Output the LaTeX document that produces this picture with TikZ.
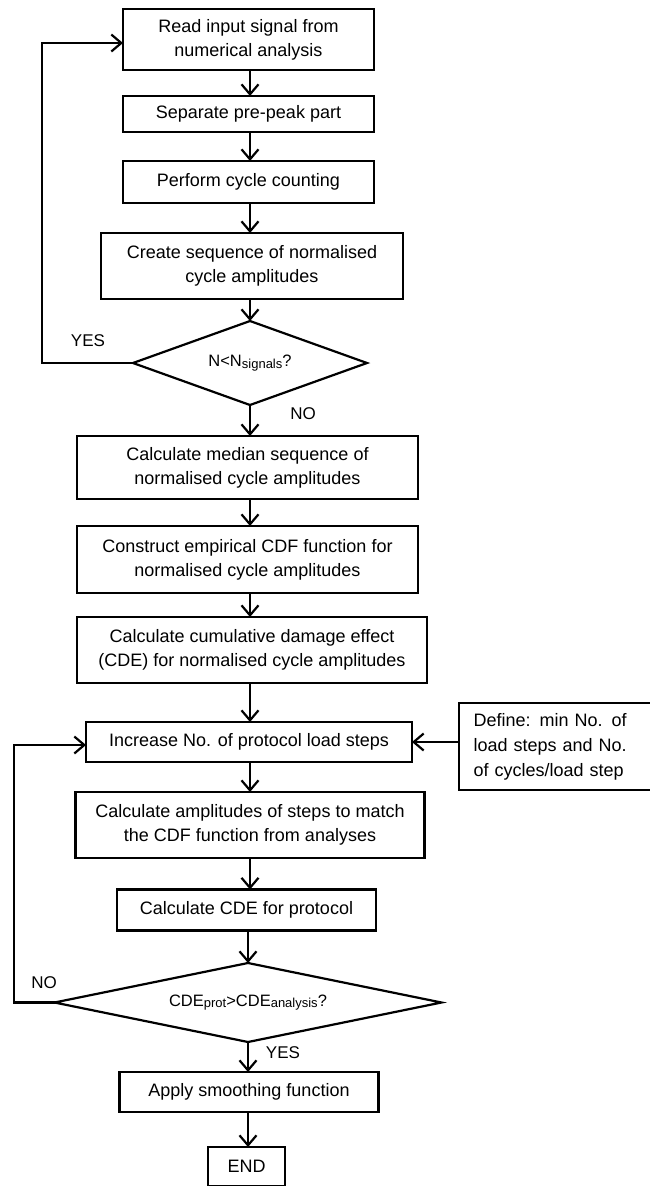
\documentclass[tikz,border=0pt]{standalone}
\usepackage{fontspec}
\setmainfont{Liberation Sans}
\usetikzlibrary{arrows.meta,shapes.geometric}
\newcommand{\sbs}[1]{\raisebox{-1.5pt}{\fontsize{13}{13}\selectfont #1}}
\begin{document}
\begin{tikzpicture}[x=1pt,y=-1pt,
  box/.style={draw, line width=2.2pt, fill=white, align=center, inner sep=0pt, outer sep=0pt, font=\fontsize{18}{24}\selectfont},
  dia/.style={draw, diamond, line width=2.2pt, fill=white, inner sep=0pt, outer sep=0pt, font=\fontsize{16.5}{20}\selectfont},
  arr/.style={line width=2.2pt, -{Straight Barb[length=10pt,width=17pt]}},
  lbl/.style={font=\fontsize{17}{20}\selectfont, inner sep=0pt}]
\useasboundingbox (0,0) rectangle (650,1186);
\fill[white] (0,0) rectangle (650,1186);
\coordinate (c) at (250,0);
% main column
\node[box, minimum width=251pt, minimum height=61pt] (b1) at (248.5,39.5) {Read input signal from\\numerical analysis};
\node[box, minimum width=251pt, minimum height=36pt] (b2) at (248.5,114) {Separate pre-peak part};
\node[box, minimum width=251pt, minimum height=42pt] (b3) at (248.5,182) {Perform cycle counting};
\node[box, minimum width=302pt, minimum height=66pt] (b4) at (252,266) {Create sequence of normalised\\cycle amplitudes};
\node[dia, aspect=2.8, minimum width=234pt, minimum height=84pt] (d1) at (250,363) {N<N\sbs{signals}?};
\node[box, minimum width=341pt, minimum height=63pt] (b5) at (247.5,467.5) {Calculate median sequence of\\normalised cycle amplitudes};
\node[box, minimum width=341pt, minimum height=67pt] (b6) at (247.5,559.5) {Construct empirical CDF function for\\normalised cycle amplitudes};
\node[box, minimum width=350pt, minimum height=66pt] (b7) at (252,650) {Calculate cumulative damage effect\\(CDE) for normalised cycle amplitudes};
\node[box, minimum width=326pt, minimum height=40pt] (b8) at (249,742) {Increase No. of protocol load steps};
\node[box, anchor=west, align=left, text width=167pt, inner xsep=14.5pt, minimum height=87pt, font=\fontsize{18}{25}\selectfont] (side) at (459,746.5) {Define: min No. of\\load steps and No.\\of cycles/load step};
\node[box, minimum width=349pt, minimum height=66pt] (b9) at (250,825) {Calculate amplitudes of steps to match\\the CDF function from analyses};
\node[box, minimum width=259pt, minimum height=41pt] (b10) at (246.5,910) {Calculate CDE for protocol};
\node[dia, aspect=4.9, minimum width=387pt, minimum height=79pt] (d2) at (248,1002.5) {CDE\sbs{prot}>CDE\sbs{analysis}?};
\node[box, minimum width=259pt, minimum height=40pt] (b11) at (249,1092) {Apply smoothing function};
\node[box, minimum width=77pt, minimum height=39pt] (end) at (246.5,1166.5) {END};
% labels
\node[lbl] (yes1) at (88,341) {YES};
\node[lbl] (no1) at (303,414) {NO};
\node[lbl] (no2) at (44,983) {NO};
\node[lbl] (yes2) at (283,1053) {YES};
% connectors
\draw[arr] (b1.south -| c) -- (b2.north -| c);
\draw[arr] (b2.south -| c) -- (b3.north -| c);
\draw[arr] (b3.south -| c) -- (b4.north -| c);
\draw[arr] (b4.south -| d1) -- (d1.north);
\draw[arr] (d1.south) -- (b5.north -| d1);
\draw[arr] (b5.south -| c) -- (b6.north -| c);
\draw[arr] (b6.south -| c) -- (b7.north -| c);
\draw[arr] (b7.south -| c) -- (b8.north -| c);
\draw[arr] (b8.south -| c) -- (b9.north -| c);
\draw[arr] (b9.south -| c) -- (b10.north -| c);
\draw[arr] (b10.south -| d2) -- (d2.north);
\draw[arr] (d2.south) -- (b11.north -| d2);
\draw[arr] (b11.south -| d2) -- (end.north -| d2);
\coordinate (l1) at (42,363);
\draw[arr] (d1.west) -- (l1) |- ([yshift=-3.5pt]b1.west);
\coordinate (l2) at (14,1002.5);
\draw[arr] (d2.west) -- (l2) |- ([yshift=-3pt]b8.west);
\draw[arr] (side.west |- b8.east) -- (b8.east);
\end{tikzpicture}
\end{document}
